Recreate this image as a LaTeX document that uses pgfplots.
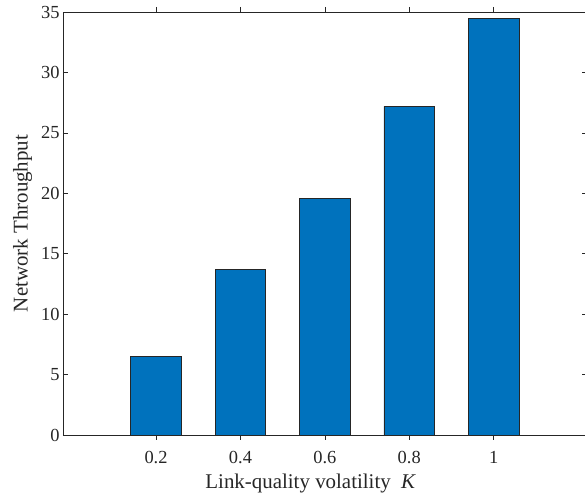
\documentclass[border=0pt]{standalone}
\usepackage{fontspec}
\setmainfont{Liberation Serif}
\usepackage{pgfplots}
\pgfplotsset{compat=1.18}
\definecolor{mblue}{RGB}{0,114,189}
\definecolor{axgray}{RGB}{38,38,38}
\begin{document}
\begin{tikzpicture}
\begin{axis}[
  name=ax,
  scale only axis,
  width=523.5bp, height=423bp,
  xmin=-0.0205, xmax=1.2200,
  ymin=0, ymax=35,
  xtick={0.2,0.4,0.6,0.8,1},
  xticklabels={0.2,0.4,0.6,0.8,1},
  ytick={0,5,10,15,20,25,30,35},
  tick align=inside,
  major tick length=5bp,
  axis line style={axgray, line width=0.6bp},
  tick style={axgray, line width=0.6bp},
  /pgf/number format/assume math mode=true,
  tick label style={font=\fontsize{18.5}{18.5}\selectfont, text=axgray},
  xticklabel style={yshift=-8bp},
  xlabel={Link-quality volatility~~\textit{K}},
  ylabel={Network Throughput},
  every axis x label/.style={at={(ticklabel cs:0.5)}, anchor=north, yshift=-3bp, xshift=-14bp, font=\fontsize{21}{21}\selectfont, text=axgray},
  every axis y label/.style={at={(ticklabel cs:0.5)}, anchor=south, rotate=90, yshift=2bp, font=\fontsize{21}{21}\selectfont, text=axgray},
  ybar,
  bar width=0.12,
]
\addplot[fill=mblue, draw=black!85, line width=0.6bp] coordinates {
  (0.2,6.5) (0.4,13.7) (0.6,19.6) (0.8,27.2) (1,34.5)
};
\end{axis}
\pgfresetboundingbox
\path ([xshift=-63bp,yshift=-64bp]ax.south west) rectangle ([xshift=-1.5bp,yshift=12bp]ax.north east);
\end{tikzpicture}
\end{document}
